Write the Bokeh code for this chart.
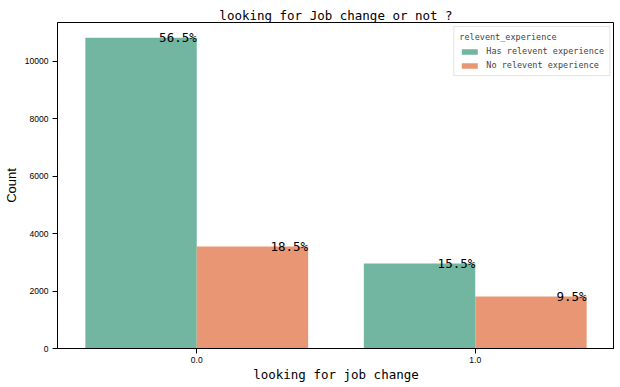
from bokeh.plotting import figure
from bokeh.models import FactorRange, Range1d, Legend, LegendItem, FixedTicker, Title, ColumnDataSource
from bokeh.transform import dodge
from bokeh.embed import file_html
from bokeh.resources import INLINE
from bokeh.core.properties import value

# ---- data ----
categories = ["0.0", "1.0"]
series_names = ["Has relevent experience", "No relevent experience"]
has_exp = [10831, 2961]
no_exp = [3550, 1816]
y_ticks = [0, 2000, 4000, 6000, 8000, 10000]

colors = ["#72b6a1", "#e99675"]
FONT = "DejaVu Sans Mono"
SANS = "Liberation Sans"

total = sum(has_exp) + sum(no_exp)
has_pct = ["%.1f%%" % (v / total * 100) for v in has_exp]
no_pct = ["%.1f%%" % (v / total * 100) for v in no_exp]

src = ColumnDataSource(dict(cat=categories, has=has_exp, no=no_exp,
                            has_pct=has_pct, no_pct=no_pct))

p = figure(frame_width=557, frame_height=326, x_range=FactorRange(*categories),
           y_range=Range1d(0, 11358), output_backend="svg", toolbar_location=None,
           min_border_left=49, min_border_right=0, min_border_bottom=28, min_border_top=22)
p.title = Title(text="looking for Job change or not ?", align="center",
                text_font=FONT, text_font_size="12.5px", text_font_style="normal",
                text_color="black", standoff=0, offset=0)

r1 = p.vbar(x=dodge("cat", -0.2, range=p.x_range), top="has", width=0.4, source=src,
            fill_color=colors[0], line_color=None)
r2 = p.vbar(x=dodge("cat", 0.2, range=p.x_range), top="no", width=0.4, source=src,
            fill_color=colors[1], line_color=None)

p.text(x=dodge("cat", 0.0, range=p.x_range), y="has", text="has_pct", source=src,
       text_align="right", text_baseline="alphabetic", text_font=value(FONT),
       text_font_size="12.5px", text_color="black")
p.text(x=dodge("cat", 0.4, range=p.x_range), y="no", text="no_pct", source=src,
       text_align="right", text_baseline="alphabetic", text_font=value(FONT),
       text_font_size="12.5px", text_color="black")

p.xgrid.visible = False
p.ygrid.visible = False
p.outline_line_color = "black"
p.outline_line_width = 1

p.yaxis.ticker = FixedTicker(ticks=y_ticks)
for ax in (p.xaxis[0], p.yaxis[0]):
    ax.axis_line_color = "black"
    ax.major_tick_line_color = "black"
    ax.major_tick_in = 0
    ax.major_tick_out = 5
    ax.minor_tick_line_color = None
    ax.major_label_text_font = SANS
    ax.major_label_text_font_size = "8.5px"
    ax.major_label_text_color = "black"
    ax.axis_label_text_font = FONT
    ax.axis_label_text_font_size = "12.5px"
    ax.axis_label_text_font_style = "normal"
    ax.axis_label_text_color = "black"

p.xaxis.axis_label = "looking for job change"
p.yaxis.axis_label = "Count"
p.yaxis.axis_label_text_font = SANS
p.yaxis.axis_label_text_font_size = "13px"
p.xaxis.major_label_standoff = 3
p.xaxis.axis_label_standoff = 1
p.yaxis.major_label_standoff = 4
p.yaxis.axis_label_standoff = 3

legend = Legend(items=[LegendItem(label=series_names[0], renderers=[r1]),
                       LegendItem(label=series_names[1], renderers=[r2])],
                title="relevent_experience", location="top_right")
legend.label_text_font = FONT
legend.label_text_font_size = "8.5px"
legend.title_text_font = FONT
legend.title_text_font_size = "8.5px"
legend.title_text_font_style = "normal"
legend.glyph_width = 20
legend.glyph_height = 7
legend.label_height = 8
legend.spacing = 4
legend.padding = 5
legend.margin = 4
legend.label_standoff = 7
legend.title_standoff = 4
legend.border_line_color = "#cccccc"
legend.background_fill_alpha = 0.8
p.add_layout(legend)

open("out.html", "w").write(file_html(p, INLINE))
